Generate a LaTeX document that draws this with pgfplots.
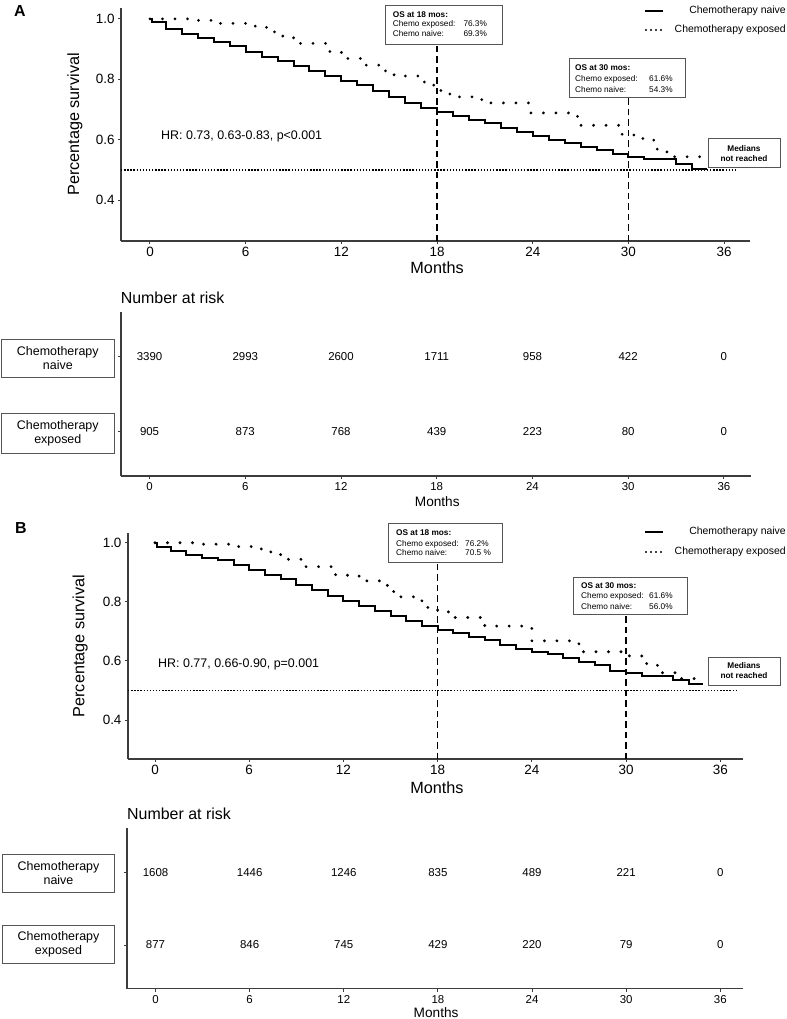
\documentclass[border=0pt]{standalone}
\usepackage{fontspec}
\setmainfont{Liberation Sans}
\usepackage{pgfplots}
\usepackage{pgfplotstable}
\pgfplotsset{compat=1.18}
\definecolor{axgray}{HTML}{3C3C3C}
\definecolor{boxgray}{HTML}{555555}
\newcommand{\annfont}{\fontsize{8.3}{10}\selectfont}
\newcommand{\legfont}{\fontsize{10.5}{12}\selectfont}
\newcommand{\hrfont}{\fontsize{12.5}{14}\selectfont}

\pgfplotstableread{
x y
0 1.000
0.15 0.989
1 0.965
2 0.950
3 0.937
4 0.924
5 0.910
6 0.889
7 0.873
8 0.859
9 0.844
10 0.827
11 0.811
12 0.794
13 0.780
14 0.763
15 0.742
16 0.722
17 0.706
18 0.693
19 0.678
20 0.665
21 0.654
22 0.640
23 0.626
24 0.613
25 0.601
26 0.588
27 0.577
28 0.565
29 0.552
30 0.544
31 0.535
33 0.520
34 0.503
34.9 0.503
}\naiveA
\pgfplotstableread{
x y
0 1.000
3 0.995
4 0.985
6 0.976
7.3 0.957
8 0.943
9 0.919
11 0.892
12 0.869
13.5 0.847
14.6 0.828
15.3 0.811
17.2 0.781
18 0.763
18.8 0.742
20.8 0.722
23.8 0.689
26.8 0.648
29.6 0.616
30.9 0.599
31.8 0.560
32.6 0.544
34.7 0.544
}\exposedA
\pgfplotstableread{
x y
0 1.000
0.15 0.984
1 0.972
2 0.958
3 0.949
4 0.941
5 0.924
6 0.907
7 0.890
8 0.876
9 0.856
10 0.840
11 0.819
12 0.802
13 0.786
14 0.769
15 0.753
16 0.734
17 0.718
18 0.706
19 0.693
20 0.681
21 0.670
22 0.653
23 0.642
24 0.631
25 0.623
26 0.610
27 0.597
28 0.585
29 0.566
30 0.559
31 0.550
33 0.534
34 0.521
34.9 0.521
}\naiveB
\pgfplotstableread{
x y
0 1.000
3 0.995
5 0.987
6.5 0.979
7 0.969
8 0.944
9.5 0.919
11.5 0.890
13 0.871
14.8 0.840
15.2 0.817
17 0.781
18 0.766
19 0.747
21 0.718
24 0.668
27 0.631
29.9 0.617
31 0.591
32 0.560
33.2 0.540
34.7 0.540
}\exposedB
\pgfplotstableread{
x y n
0 2 3390
6 2 2993
12 2 2600
18 2 1711
24 2 958
30 2 422
36 2 0
0 1 905
6 1 873
12 1 768
18 1 439
24 1 223
30 1 80
36 1 0
}\riskA
\pgfplotstableread{
x y n
0 2 1608
6 2 1446
12 2 1246
18 2 835
24 2 489
30 2 221
36 2 0
0 1 877
6 1 846
12 1 745
18 1 429
24 1 220
30 1 79
36 1 0
}\riskB

\tikzset{
 medline/.style={black, line width=1.4bp, dash pattern=on 1.4bp off 1.7bp},
 vline/.style={black, line width=1.6bp, dash pattern=on 6.5bp off 4bp},
}
\pgfplotsset{
 base/.style={
   scale only axis, axis x line*=bottom, axis y line*=left,
   axis line style={axgray, line width=1.4bp},
   tick style={axgray, line width=1bp}, tick align=outside,
   major tick length=3bp,
   xtick={0,6,...,36}, xticklabels={0,6,12,18,24,30,36},
   clip=false,
   ylabel style={anchor=center},
   xlabel style={anchor=center},
 },
 kmaxis/.style={base,
   ytick={0.4,0.6,0.8,1.0}, yticklabels={0.4,0.6,0.8,1.0},
   ticklabel style={font=\fontsize{13.5}{16}\selectfont, text=black},
   xlabel={Months}, ylabel={Percentage survival},
   label style={font=\fontsize{16.3}{19}\selectfont},
 },
 riskaxis/.style={base,
   ytick={1,2}, yticklabels={},
   ticklabel style={font=\fontsize{11.5}{13}\selectfont, text=black},
   xlabel={Months},
   xlabel style={font=\fontsize{13.7}{16}\selectfont},
 },
 survn/.style={const plot, black, line width=2bp},
 surve/.style={const plot, black, line width=3.1bp, line cap=round, dash pattern=on 0bp off 12.5bp},
 riskn/.style={only marks, mark=none, nodes near coords, point meta=explicit symbolic,
   nodes near coords style={anchor=center, font=\fontsize{11.5}{13}\selectfont}},
}

\begin{document}
\begin{tikzpicture}
\path[use as bounding box] (0,0) rectangle (787bp,-1019bp);

% ---------- Panel A KM ----------
\begin{axis}[kmaxis, at={(121bp,-241bp)}, anchor=south west,
  width=629bp, height=233bp,
  xmin=-1.818, xmax=37.62, ymin=0.2655, ymax=1.0357,
  ylabel style={at={(axis description cs:-0.0731,0.5)}},
  xlabel style={at={(axis description cs:0.5025,-0.116)}}]
\addplot[survn] table {\naiveA};
\addplot[surve] table {\exposedA};
\draw[medline] (axis cs:-1.818,0.5) -- (axis cs:36.7,0.5);
\draw[vline] (axis cs:18,0.2655) -- (axis cs:18,0.9167);
\draw[vline] (axis cs:30,0.2655) -- (axis cs:30,0.7415);
\end{axis}

% ---------- Panel A risk table ----------
\begin{axis}[riskaxis, at={(121bp,-476bp)}, anchor=south west,
  width=630bp, height=164bp,
  xmin=-1.79, xmax=37.7, ymin=0.41, ymax=2.6,
  xlabel style={at={(axis description cs:0.502,-0.155)}}]
\addplot[riskn] table[meta=n] {\riskA};
\end{axis}

% ---------- Panel B KM ----------
\begin{axis}[kmaxis, at={(128bp,-759bp)}, anchor=south west,
  width=614.7bp, height=226bp,
  xmin=-1.72, xmax=37.43, ymin=0.268, ymax=1.033,
  ylabel style={at={(axis description cs:-0.078,0.5)}},
  xlabel style={at={(axis description cs:0.5025,-0.128)}}]
\addplot[survn] table {\naiveB};
\addplot[surve] table {\exposedB};
\draw[medline] (axis cs:-1.72,0.5) -- (axis cs:37.07,0.5);
\draw[vline] (axis cs:18,0.268) -- (axis cs:18,0.9346);
\draw[vline] (axis cs:30,0.268) -- (axis cs:30,0.758);
\end{axis}

% ---------- Panel B risk table ----------
\begin{axis}[riskaxis, at={(127bp,-988.7bp)}, anchor=south west,
  width=615.7bp, height=160.7bp,
  xmin=-1.82, xmax=37.43, ymin=0.396, ymax=2.618,
  xlabel style={at={(axis description cs:0.502,-0.151)}}]
\addplot[riskn] table[meta=n] {\riskB};
\end{axis}

\begin{scope}[x=1bp,y=-1bp]
% panel letters
\node[font=\bfseries\fontsize{16}{18}\selectfont] at (20,11.5) {A};
\node[font=\bfseries\fontsize{16}{18}\selectfont] at (21,528.5) {B};

% ---- A annotations ----
\node[anchor=west, inner sep=0, font=\hrfont] at (161,136) {HR: 0.73, 0.63-0.83, p<0.001};
\draw[boxgray, line width=0.9bp, fill=white] (385,5) rectangle (502,44);
\node[anchor=west, inner sep=0, font=\annfont\bfseries] at (392.7,15) {OS at 18 mos:};
\node[anchor=west, inner sep=0, font=\annfont] at (392.7,24) {Chemo exposed:};
\node[anchor=west, inner sep=0, font=\annfont] at (392.7,33.5) {Chemo naive:};
\node[anchor=west, inner sep=0, font=\annfont] at (463.3,24) {76.3\%};
\node[anchor=west, inner sep=0, font=\annfont] at (463.3,33.5) {69.3\%};

\draw[boxgray, line width=0.9bp, fill=white] (569,58) rectangle (685,97);
\node[anchor=west, inner sep=0, font=\annfont\bfseries] at (575,67.5) {OS at 30 mos:};
\node[anchor=west, inner sep=0, font=\annfont] at (575,79) {Chemo exposed:};
\node[anchor=west, inner sep=0, font=\annfont] at (575,90) {Chemo naive:};
\node[anchor=west, inner sep=0, font=\annfont] at (649,79) {61.6\%};
\node[anchor=west, inner sep=0, font=\annfont] at (649,90) {54.3\%};

\draw[boxgray, line width=0.9bp, fill=white] (708,138) rectangle (780,167);
\node[inner sep=0, font=\annfont\bfseries] at (744,148.5) {Medians};
\node[inner sep=0, font=\annfont\bfseries] at (744,158.5) {not reached};

\draw[black, line width=2bp] (645,11) -- (663,11);
\draw[black, line width=2.2bp, line cap=round, dash pattern=on 0bp off 5bp] (646,30) -- (662,30);
\node[anchor=east, inner sep=0, font=\legfont] at (786,11) {Chemotherapy naive};
\node[anchor=east, inner sep=0, font=\legfont] at (786,30) {Chemotherapy exposed};

% ---- A risk table labels ----
\node[anchor=west, inner sep=0, font=\fontsize{16}{18}\selectfont] at (120.6,298.3) {Number at risk};
\node[draw=boxgray, line width=0.9bp, minimum width=113.6bp, minimum height=38bp, align=center,
  inner sep=0, font=\fontsize{12.5}{14.3}\selectfont] at (57.8,358) {Chemotherapy\\naive};
\node[draw=boxgray, line width=0.9bp, minimum width=113.6bp, minimum height=40bp, align=center,
  inner sep=0, font=\fontsize{12.5}{14.3}\selectfont] at (57.8,433) {Chemotherapy\\exposed};

% ---- B annotations ----
\node[anchor=west, inner sep=0, font=\hrfont] at (158,664) {HR: 0.77, 0.66-0.90, p=0.001};
\draw[boxgray, line width=0.9bp, fill=white] (388,523) rectangle (502,562);
\node[anchor=west, inner sep=0, font=\annfont\bfseries] at (396,533) {OS at 18 mos:};
\node[anchor=west, inner sep=0, font=\annfont] at (396,544) {Chemo exposed:};
\node[anchor=west, inner sep=0, font=\annfont] at (396,553) {Chemo naive:};
\node[anchor=west, inner sep=0, font=\annfont] at (465,544) {76.2\%};
\node[anchor=west, inner sep=0, font=\annfont] at (465,553) {70.5 \%};

\draw[boxgray, line width=0.9bp, fill=white] (573,577) rectangle (687,614);
\node[anchor=west, inner sep=0, font=\annfont\bfseries] at (581,586) {OS at 30 mos:};
\node[anchor=west, inner sep=0, font=\annfont] at (581,596) {Chemo exposed:};
\node[anchor=west, inner sep=0, font=\annfont] at (581,607) {Chemo naive:};
\node[anchor=west, inner sep=0, font=\annfont] at (649,596) {61.6\%};
\node[anchor=west, inner sep=0, font=\annfont] at (649,607) {56.0\%};

\draw[boxgray, line width=0.9bp, fill=white] (708,657) rectangle (780,685);
\node[inner sep=0, font=\annfont\bfseries] at (744,666) {Medians};
\node[inner sep=0, font=\annfont\bfseries] at (744,676) {not reached};

\draw[black, line width=2bp] (645,532) -- (663,532);
\draw[black, line width=2.2bp, line cap=round, dash pattern=on 0bp off 5bp] (646,552) -- (662,552);
\node[anchor=east, inner sep=0, font=\legfont] at (786,532) {Chemotherapy naive};
\node[anchor=east, inner sep=0, font=\legfont] at (786,552) {Chemotherapy exposed};

% ---- B risk table labels ----
\node[anchor=west, inner sep=0, font=\fontsize{16}{18}\selectfont] at (127,814) {Number at risk};
\node[draw=boxgray, line width=0.9bp, minimum width=112bp, minimum height=38bp, align=center,
  inner sep=0, font=\fontsize{12.5}{14.3}\selectfont] at (58.5,873) {Chemotherapy\\naive};
\node[draw=boxgray, line width=0.9bp, minimum width=112bp, minimum height=38bp, align=center,
  inner sep=0, font=\fontsize{12.5}{14.3}\selectfont] at (58.5,944) {Chemotherapy\\exposed};
\end{scope}
\end{tikzpicture}
\end{document}
